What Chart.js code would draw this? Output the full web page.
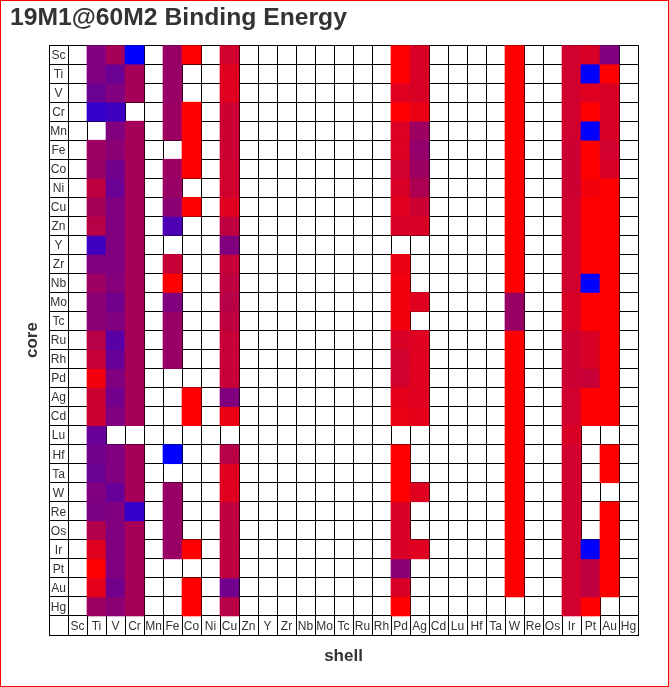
<!DOCTYPE html>
<html>
<head>
<meta charset="utf-8">
<title>19M1@60M2 Binding Energy</title>
<script src="https://cdn.jsdelivr.net/npm/chart.js@4/dist/chart.umd.min.js"></script>
<style>
  html, body { margin: 0; padding: 0; background: #fff; }
  #wrap { position: relative; width: 669px; height: 687px; }
  #frame { position: absolute; left: 0; top: 0; width: 669px; height: 687px; box-sizing: border-box; border: 1px solid #ff0000; pointer-events: none; }
  canvas { display: block; }
</style>
</head>
<body>
<div id="wrap">
  <canvas id="chart" width="669" height="687"></canvas>
  <div id="frame"></div>
</div>
<script>
// core elements (rows, top to bottom) and shell elements (columns, left to right)
const cores = ["Sc","Ti","V","Cr","Mn","Fe","Co","Ni","Cu","Zn","Y","Zr","Nb","Mo","Tc","Ru","Rh","Pd","Ag","Cd","Lu","Hf","Ta","W","Re","Os","Ir","Pt","Au","Hg"];
const shells = ["Sc","Ti","V","Cr","Mn","Fe","Co","Ni","Cu","Zn","Y","Zr","Nb","Mo","Tc","Ru","Rh","Pd","Ag","Cd","Lu","Hf","Ta","W","Re","Os","Ir","Pt","Au","Hg"];

// relative binding energy, 0 = blue ... 1 = red, null = no value
const _ = null;
const energy = [
  // Sc  Ti   V    Cr   Mn  Fe   Co  Ni  Cu   Zn Y  Zr Nb Mo Tc Ru Rh  Pd   Ag   Cd Lu Hf Ta  W   Re Os  Ir   Pt   Au  Hg
  [_, .50, .65, .00, _, .60, 1,  _, .82, _, _, _, _, _, _, _, _, 1,   .85, _, _, _, _, 1,   _, _, .82, .85, .50, _], // Sc
  [_, .50, .42, .65, _, .60, _,  _, .88, _, _, _, _, _, _, _, _, 1,   .85, _, _, _, _, 1,   _, _, .82, 0,   1,   _], // Ti
  [_, .42, .50, .65, _, .60, _,  _, .88, _, _, _, _, _, _, _, _, .88, .85, _, _, _, _, 1,   _, _, .82, .88, .85, _], // V
  [_, .20, .25, _,   _, .62, 1,  _, .80, _, _, _, _, _, _, _, _, 1,   .92, _, _, _, _, 1,   _, _, .82, 1,   .85, _], // Cr
  [_, _,   .50, .65, _, .62, 1,  _, .80, _, _, _, _, _, _, _, _, .86, .62, _, _, _, _, 1,   _, _, .82, 0,   .85, _], // Mn
  [_, .62, .55, .65, _, _,   1,  _, .80, _, _, _, _, _, _, _, _, .86, .58, _, _, _, _, 1,   _, _, .80, 1,   .82, _], // Fe
  [_, .60, .45, .65, _, .62, 1,  _, .82, _, _, _, _, _, _, _, _, .82, .62, _, _, _, _, 1,   _, _, .80, 1,   .85, _], // Co
  [_, .75, .42, .65, _, .60, _,  _, .82, _, _, _, _, _, _, _, _, .85, .68, _, _, _, _, 1,   _, _, .80, .95, 1,   _], // Ni
  [_, .65, .50, .65, _, .55, 1,  _, .88, _, _, _, _, _, _, _, _, .88, .80, _, _, _, _, 1,   _, _, .82, 1,   1,   _], // Cu
  [_, .72, .50, .65, _, .30, _,  _, .75, _, _, _, _, _, _, _, _, .85, .85, _, _, _, _, 1,   _, _, .82, 1,   1,   _], // Zn
  [_, .25, .50, .65, _, _,   _,  _, .50, _, _, _, _, _, _, _, _, _,   _,   _, _, _, _, 1,   _, _, .82, 1,   1,   _], // Y
  [_, .50, .50, .65, _, .78, _,  _, .78, _, _, _, _, _, _, _, _, .92, _,   _, _, _, _, 1,   _, _, .82, 1,   1,   _], // Zr
  [_, .62, .52, .65, _, 1,   _,  _, .75, _, _, _, _, _, _, _, _, .95, _,   _, _, _, _, 1,   _, _, .82, 0,   1,   _], // Nb
  [_, .55, .45, .65, _, .50, _,  _, .72, _, _, _, _, _, _, _, _, .95, .88, _, _, _, _, .60, _, _, .85, 1,   1,   _], // Mo
  [_, .55, .50, .65, _, .60, _,  _, .75, _, _, _, _, _, _, _, _, .95, _,   _, _, _, _, .60, _, _, .85, 1,   1,   _], // Tc
  [_, .72, .35, .65, _, .60, _,  _, .78, _, _, _, _, _, _, _, _, .85, .88, _, _, _, _, 1,   _, _, .80, .85, 1,   _], // Ru
  [_, .78, .40, .65, _, .60, _,  _, .78, _, _, _, _, _, _, _, _, .82, .88, _, _, _, _, 1,   _, _, .80, .85, 1,   _], // Rh
  [_, .95, .50, .65, _, _,   _,  _, .78, _, _, _, _, _, _, _, _, .82, .88, _, _, _, _, 1,   _, _, .80, .78, 1,   _], // Pd
  [_, .80, .45, .65, _, _,   1,  _, .50, _, _, _, _, _, _, _, _, .90, .88, _, _, _, _, 1,   _, _, .82, 1,   1,   _], // Ag
  [_, .80, .50, .65, _, _,   1,  _, .92, _, _, _, _, _, _, _, _, .92, .90, _, _, _, _, 1,   _, _, .82, 1,   1,   _], // Cd
  [_, .40, _,   _,   _, _,   _,  _, _,   _, _, _, _, _, _, _, _, _,   _,   _, _, _, _, 1,   _, _, .85, _,   _,   _], // Lu
  [_, .45, .50, .65, _, 0,   _,  _, .72, _, _, _, _, _, _, _, _, 1,   _,   _, _, _, _, 1,   _, _, .82, _,   1,   _], // Hf
  [_, .42, .50, .65, _, _,   _,  _, .88, _, _, _, _, _, _, _, _, 1,   _,   _, _, _, _, 1,   _, _, .82, _,   1,   _], // Ta
  [_, .50, .40, .65, _, .60, _,  _, .88, _, _, _, _, _, _, _, _, 1,   .88, _, _, _, _, 1,   _, _, .82, _,   _,   _], // W
  [_, .48, .50, .20, _, .60, _,  _, .75, _, _, _, _, _, _, _, _, .85, _,   _, _, _, _, 1,   _, _, .82, _,   1,   _], // Re
  [_, .70, .50, .65, _, .60, _,  _, .75, _, _, _, _, _, _, _, _, .85, _,   _, _, _, _, 1,   _, _, .82, _,   1,   _], // Os
  [_, .88, .50, .65, _, .60, 1,  _, .75, _, _, _, _, _, _, _, _, .85, .88, _, _, _, _, 1,   _, _, .82, 0,   1,   _], // Ir
  [_, 1,   .50, .65, _, _,   _,  _, .75, _, _, _, _, _, _, _, _, .55, _,   _, _, _, _, 1,   _, _, .82, .75, 1,   _], // Pt
  [_, .90, .45, .65, _, _,   1,  _, .45, _, _, _, _, _, _, _, _, .85, _,   _, _, _, _, 1,   _, _, .82, .75, 1,   _], // Au
  [_, .62, .55, .65, _, _,   1,  _, .72, _, _, _, _, _, _, _, _, 1,   _,   _, _, _, _, _,   _, _, .82, 1,   _,   _]  // Hg
];

Chart.defaults.font.family = '"Liberation Sans", Arial, sans-serif';

function colour(v) {
  if (v === null || v === undefined) return "rgba(0,0,0,0)";
  const r = Math.round(255 * v);
  const b = Math.round(255 * (1 - v));
  return `rgb(${r},0,${b})`;
}

// first column and last row hold the element names, like the original table
const cellLabels = {
  id: "cellLabels",
  afterDraw(chart) {
    const { ctx, scales: { x, y } } = chart;
    ctx.save();
    ctx.font = '12px "Liberation Sans", Arial, sans-serif';
    ctx.fillStyle = "#333";
    ctx.textAlign = "center";
    ctx.textBaseline = "middle";
    cores.forEach((c, i) => {
      ctx.fillText(c, x.getPixelForValue(0), y.getPixelForValue(i + 0.5) + 1);
    });
    shells.forEach((s, j) => {
      ctx.fillText(s, x.getPixelForValue(j + 1), y.getPixelForValue(cores.length + 0.5) + 1);
    });
    ctx.restore();
  }
};

const datasets = cores.map((core, i) => ({
  label: core,
  data: [null, ...energy[i].map(v => (v === null ? null : [i, i + 1]))],
  backgroundColor: ctx => colour(energy[i][ctx.dataIndex - 1]),
  borderWidth: 0,
  barPercentage: 1,
  categoryPercentage: 1,
  grouped: false
}));

new Chart(document.getElementById("chart"), {
  type: "bar",
  data: { labels: ["", ...shells], datasets },
  options: {
    responsive: false,
    animation: false,
    events: [],
    layout: { padding: { left: 10, right: 31, top: 0, bottom: 16.8 } },
    plugins: {
      legend: { display: false },
      tooltip: { enabled: false },
      title: {
        display: true,
        text: "19M1@60M2 Binding Energy",
        align: "start",
        color: "#333",
        font: { size: 24.7, weight: "bold", lineHeight: 1.2 },
        padding: { top: 3, bottom: 12.4 }
      }
    },
    scales: {
      x: {
        type: "category",
        offset: true,
        z: 1,
        grid: { color: "#000", offset: true, drawTicks: false, lineWidth: 1 },
        border: { color: "#000" },
        ticks: { display: false },
        title: {
          display: true, text: "shell", color: "#333",
          font: { size: 17, weight: "bold" },
          padding: { top: 10.8, bottom: 4 }
        }
      },
      y: {
        type: "linear",
        reverse: true,
        min: 0,
        max: cores.length + 1,
        z: 1,
        grid: { color: "#000", drawTicks: false, lineWidth: 1 },
        border: { color: "#000" },
        ticks: { display: false, stepSize: 1 },
        title: {
          display: true, text: "core", color: "#333",
          font: { size: 17, weight: "bold" },
          padding: { top: 11.8, bottom: 6.8 }
        }
      }
    }
  },
  plugins: [cellLabels]
});
</script>
</body>
</html>
